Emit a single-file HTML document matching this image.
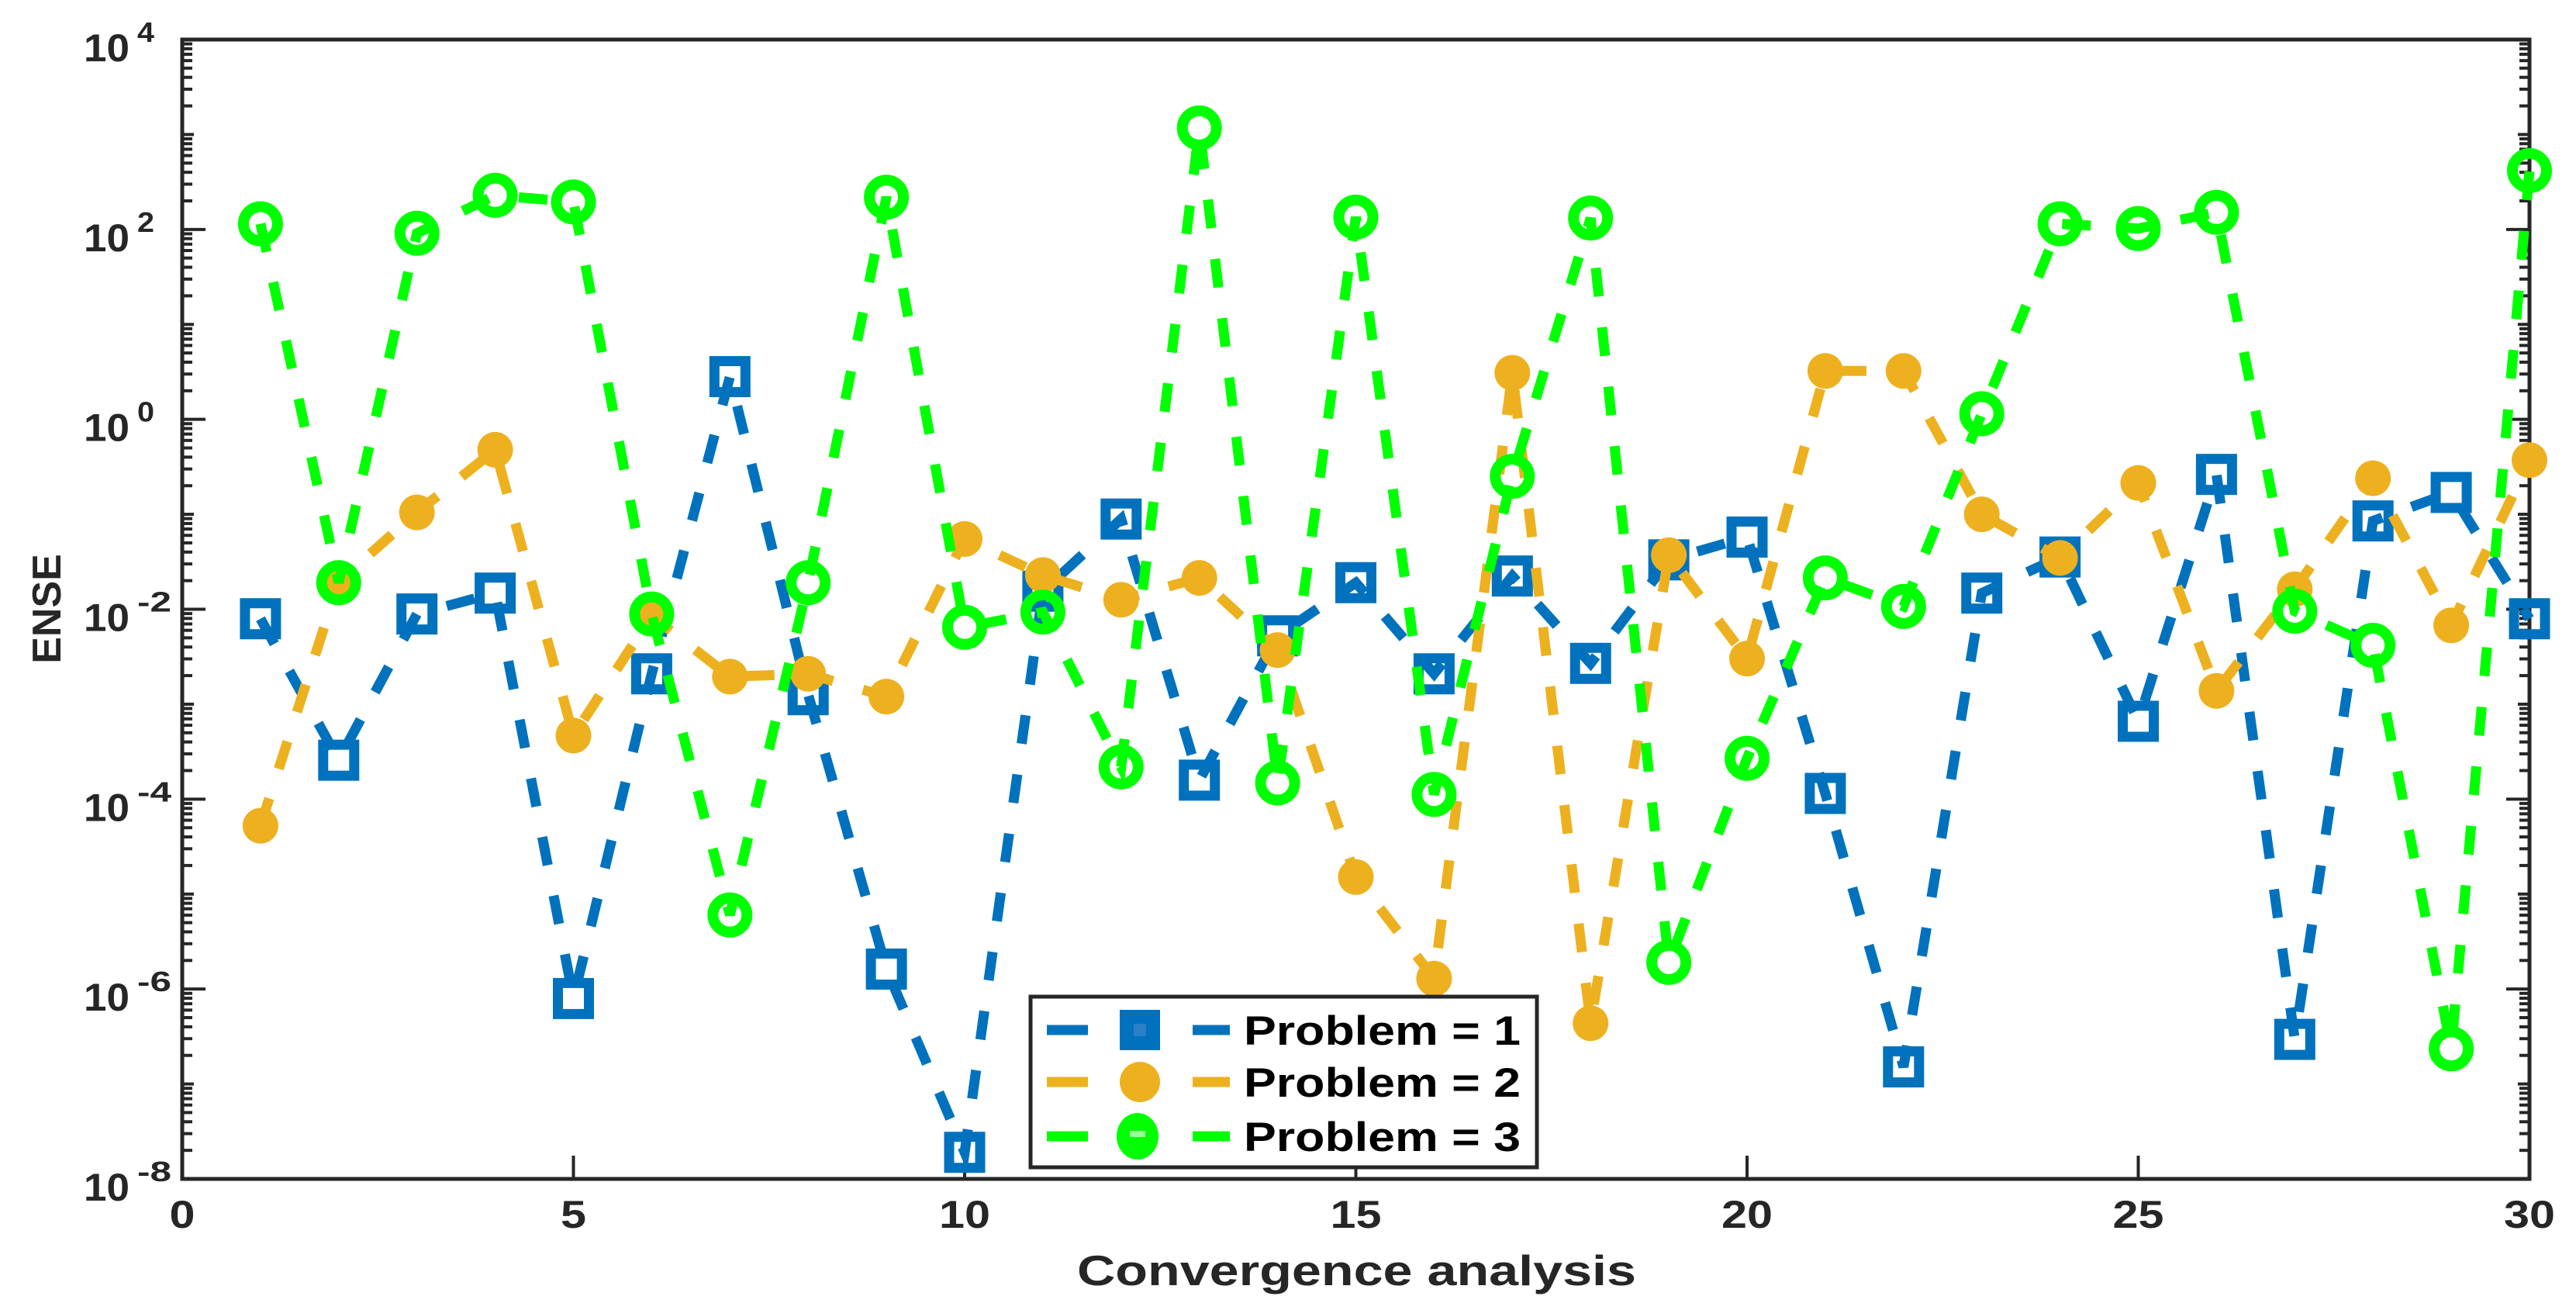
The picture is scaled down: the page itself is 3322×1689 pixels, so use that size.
<!DOCTYPE html>
<html><head><meta charset="utf-8"><style>
html,body{margin:0;padding:0;background:#fff;}
svg{display:block;}
text{font-family:"Liberation Sans",Arial,sans-serif;font-weight:bold;fill:#262626;}
</style></head><body>
<svg id="s" width="3322" height="1689" xmlns="http://www.w3.org/2000/svg"></svg>
<script>
var L=235,R=3262,T=51,B=1520;
function X(v){return L+(R-L)*v/30;}
function Y(lg){return T+(4-lg)*(B-T)/12;}
var p1=[-2.10,-3.59,-2.05,-1.83,-6.10,-2.68,0.45,-2.90,-5.79,-7.72,-1.81,-1.05,-3.80,-2.28,-1.72,-2.68,-1.65,-2.57,-1.48,-1.24,-3.94,-6.82,-1.83,-1.45,-3.18,-0.58,-6.53,-1.07,-0.77,-2.10];
var p2=[-4.28,-1.71,-0.98,-0.32,-3.33,-2.07,-2.71,-2.68,-2.92,-1.26,-1.64,-1.90,-1.67,-2.43,-4.82,-5.89,0.49,-6.36,-1.43,-2.52,0.51,0.51,-1.0,-1.46,-0.67,-2.86,-1.79,-0.62,-2.17,-0.43];
var p3=[2.06,-1.72,1.96,2.36,2.29,-2.05,-5.22,-1.72,2.34,-2.19,-2.03,-3.66,3.07,-3.83,2.13,-3.95,-0.60,2.12,-5.72,-3.57,-1.67,-1.97,0.06,2.06,2.01,2.18,-2.02,-2.38,-6.63,2.62];
var h='';
h+='<rect x="'+L+'" y="'+T+'" width="'+(R-L)+'" height="'+(B-T)+'" fill="none" stroke="#262626" stroke-width="5"/>';
for(var d=-8;d<=4;d++){
  var y=Y(d);var len=(d%2==0)?30:15;
  h+='<line x1="'+L+'" y1="'+y+'" x2="'+(L+len)+'" y2="'+y+'" stroke="#262626" stroke-width="4"/>';
  h+='<line x1="'+R+'" y1="'+y+'" x2="'+(R-len)+'" y2="'+y+'" stroke="#262626" stroke-width="4"/>';
  if(d<4){for(var k=2;k<=9;k++){var yy=Y(d+Math.log10(k));
    h+='<line x1="'+L+'" y1="'+yy+'" x2="'+(L+13)+'" y2="'+yy+'" stroke="#262626" stroke-width="4"/>';
    h+='<line x1="'+R+'" y1="'+yy+'" x2="'+(R-13)+'" y2="'+yy+'" stroke="#262626" stroke-width="4"/>';}}
  if(d%2==0){
    h+='<text x="108" y="'+(y+28)+'" font-size="50" textLength="59" lengthAdjust="spacingAndGlyphs">10</text>';
    var e=''+d;
    h+='<text x="177" y="'+(y+3)+'" font-size="36" textLength="'+(e.length*22)+'" lengthAdjust="spacingAndGlyphs">'+e+'</text>';
  }
}
for(var v=0;v<=30;v+=5){var x=X(v);var s=''+v;var w=s.length*33;
  h+='<line x1="'+x+'" y1="'+B+'" x2="'+x+'" y2="'+(B-30)+'" stroke="#262626" stroke-width="4"/>';
  h+='<text x="'+(x-w/2)+'" y="1583" font-size="50" textLength="'+w+'" lengthAdjust="spacingAndGlyphs">'+s+'</text>';}
h+='<text x="1389" y="1657" font-size="55" textLength="721" lengthAdjust="spacingAndGlyphs">Convergence analysis</text>';
h+='<text transform="translate(78,785) rotate(-90)" font-size="52" text-anchor="middle">ENSE</text>';
function series(d,col,mk){
  var pts=d.map(function(v,i){return X(i+1)+','+Y(v);}).join(' ');
  var s='<polyline points="'+pts+'" fill="none" stroke="'+col+'" stroke-width="13" stroke-dasharray="37 40"/>';
  d.forEach(function(v,i){s+=mk(X(i+1),Y(v));});
  return s;
}
function sq(x,y){return '<rect x="'+(x-20)+'" y="'+(y-20)+'" width="40" height="40" fill="none" stroke="#0072BD" stroke-width="13"/>';}
function dot(x,y){return '<circle cx="'+x+'" cy="'+y+'" r="23" fill="#EDB120"/>';}
function ring(x,y){return '<circle cx="'+x+'" cy="'+y+'" r="22" fill="none" stroke="#00FF00" stroke-width="14"/>';}
h+=series(p1,'#0072BD',sq);
h+=series(p2,'#EDB120',dot);
h+=series(p3,'#00FF00',ring);
h+='<rect x="1329" y="1285" width="653" height="220" fill="#fff" stroke="#262626" stroke-width="5"/>';
var rows=[[1328,'#0072BD','1'],[1395,'#EDB120','2'],[1465,'#00FF00','3']];
rows.forEach(function(r){
  h+='<line x1="1350" y1="'+r[0]+'" x2="1403" y2="'+r[0]+'" stroke="'+r[1]+'" stroke-width="13"/>';
  h+='<line x1="1538" y1="'+r[0]+'" x2="1586" y2="'+r[0]+'" stroke="'+r[1]+'" stroke-width="13"/>';
  if(r[2]=='1') h+='<rect x="1444" y="'+(r[0]-26)+'" width="52" height="52" fill="#0072BD"/><rect x="1462" y="'+(r[0]-8)+'" width="16" height="16" fill="#2a80c6"/>';
  else if(r[2]=='2') h+='<circle cx="1470" cy="'+r[0]+'" r="26" fill="#EDB120"/>';
  else h+='<ellipse cx="1467" cy="'+r[0]+'" rx="27" ry="30" fill="#00FF00"/><rect x="1457" y="'+(r[0]-7)+'" width="20" height="8" fill="#9f9"/>';
  h+='<text x="1604" y="'+(r[0]+19)+'" font-size="53" textLength="357" lengthAdjust="spacingAndGlyphs" style="fill:#000">Problem = '+r[2]+'</text>';
});
document.getElementById('s').innerHTML=h;
</script>
</body></html>
